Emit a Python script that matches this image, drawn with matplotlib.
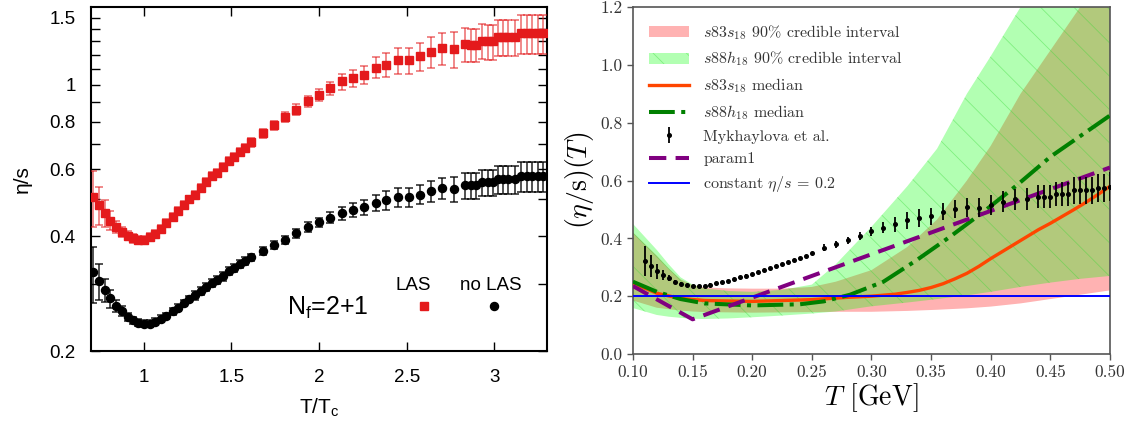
import numpy as np
import matplotlib
matplotlib.use('Agg')
import matplotlib.pyplot as plt
from matplotlib.ticker import FixedLocator, FixedFormatter, NullFormatter, NullLocator
from matplotlib.lines import Line2D

plt.rcParams['font.family'] = ['Liberation Sans', 'DejaVu Sans']
plt.rcParams['mathtext.fontset'] = 'custom'
plt.rcParams['mathtext.rm'] = 'Liberation Sans'
plt.rcParams['mathtext.it'] = 'Liberation Sans:italic'
plt.rcParams['axes.unicode_minus'] = False
plt.rcParams['hatch.linewidth'] = 0.6

# ---------------- left panel: lattice eta/s vs T/Tc ----------------
t_tc = [0.713, 0.748, 0.778, 0.81, 0.845, 0.875, 0.908, 0.94, 0.97, 1.0,
        1.034, 1.066, 1.098, 1.13, 1.165, 1.197, 1.228, 1.26, 1.294, 1.325,
        1.356, 1.388, 1.42, 1.45, 1.487, 1.517, 1.55, 1.58, 1.61, 1.68,
        1.744, 1.807, 1.87, 1.935, 2.0, 2.062, 2.129, 2.193, 2.256, 2.322,
        2.384, 2.45, 2.515, 2.578, 2.64, 2.703, 2.77, 2.835, 2.866, 2.895,
        2.93, 2.962, 2.99, 3.02, 3.05, 3.08, 3.115, 3.15, 3.184, 3.215,
        3.246, 3.278]

eta_las = [0.507, 0.484, 0.460, 0.440, 0.423, 0.411, 0.402, 0.395, 0.392, 0.392,
           0.398, 0.406, 0.418, 0.433, 0.449, 0.466, 0.483, 0.500, 0.515, 0.536,
           0.555, 0.575, 0.588, 0.608, 0.632, 0.648, 0.668, 0.684, 0.706, 0.746,
           0.783, 0.822, 0.861, 0.905, 0.942, 0.979, 1.02, 1.04, 1.063, 1.11,
           1.13, 1.16, 1.16, 1.19, 1.22, 1.25, 1.24, 1.28, 1.275, 1.275,
           1.306, 1.30, 1.30, 1.338, 1.338, 1.338, 1.338, 1.368, 1.368, 1.368,
           1.368, 1.368]
err_las = [0.085, 0.055, 0.038, 0.025, 0.016, 0.012, 0.01, 0.01, 0.01, 0.01,
           0.01, 0.01, 0.01, 0.01, 0.011, 0.011, 0.012, 0.012, 0.012, 0.013,
           0.013, 0.014, 0.014, 0.015, 0.015, 0.016, 0.016, 0.017, 0.018, 0.02,
           0.022, 0.025, 0.027, 0.03, 0.035, 0.04, 0.05, 0.055, 0.06, 0.07,
           0.08, 0.09, 0.09, 0.10, 0.115, 0.12, 0.135, 0.13, 0.13, 0.13,
           0.135, 0.135, 0.135, 0.145, 0.145, 0.145, 0.145, 0.16, 0.16, 0.16,
           0.16, 0.16]

eta_nolas = [0.322, 0.305, 0.289, 0.275, 0.263, 0.255, 0.246, 0.241, 0.237, 0.236,
             0.236, 0.239, 0.243, 0.247, 0.254, 0.26, 0.267, 0.274, 0.28, 0.288,
             0.295, 0.302, 0.307, 0.314, 0.324, 0.33, 0.339, 0.345, 0.352, 0.366,
             0.38, 0.392, 0.407, 0.423, 0.435, 0.448, 0.46, 0.469, 0.477, 0.49,
             0.498, 0.507, 0.507, 0.515, 0.525, 0.535, 0.533, 0.544, 0.544, 0.544,
             0.554, 0.554, 0.554, 0.565, 0.565, 0.565, 0.565, 0.575, 0.575, 0.575,
             0.575, 0.575]
err_nolas = [0.054, 0.033, 0.02, 0.015, 0.01, 0.008, 0.006, 0.005, 0.005, 0.005,
             0.005, 0.005, 0.005, 0.005, 0.005, 0.005, 0.005, 0.005, 0.007, 0.007,
             0.007, 0.007, 0.007, 0.008, 0.008, 0.008, 0.008, 0.008, 0.008, 0.009,
             0.009, 0.01, 0.011, 0.012, 0.013, 0.015, 0.018, 0.02, 0.022, 0.025,
             0.028, 0.03, 0.03, 0.03, 0.033, 0.035, 0.04, 0.042, 0.042, 0.042,
             0.045, 0.045, 0.045, 0.048, 0.048, 0.048, 0.048, 0.052, 0.052, 0.052,
             0.052, 0.052]

yticks_l = [0.2, 0.4, 0.6, 0.8, 1, 1.5]
ylabels_l = ['0.2', '0.4', '0.6', '0.8', '1', '1.5']
yminor_l = [0.3, 0.5, 0.7, 0.9, 1.1, 1.2, 1.3, 1.4]
xticks_l = [1, 1.5, 2, 2.5, 3]
xlabels_l = ['1', '1.5', '2', '2.5', '3']

# ---------------- right panel: Bayesian eta/s(T) ----------------
T_band = [0.10, 0.12, 0.13, 0.14, 0.15, 0.16, 0.18, 0.20, 0.225, 0.25,
          0.27, 0.30, 0.33, 0.355, 0.38, 0.40, 0.425, 0.45, 0.475, 0.50]
s83_hi = [0.42, 0.34, 0.295, 0.258, 0.238, 0.23, 0.227, 0.226, 0.226, 0.232,
          0.25, 0.29, 0.37, 0.465, 0.60, 0.72, 0.90, 1.05, 1.2, 1.36]
s83_lo = [0.185, 0.16, 0.155, 0.15, 0.147, 0.145, 0.144, 0.143, 0.144, 0.145,
          0.146, 0.146, 0.149, 0.153, 0.158, 0.164, 0.175, 0.19, 0.205, 0.22]
s88_hi = [0.45, 0.36, 0.31, 0.265, 0.24, 0.227, 0.218, 0.215, 0.222, 0.24,
          0.31, 0.44, 0.58, 0.71, 0.90, 1.03, 1.2, 1.4, 1.6, 1.8]
s88_lo = [0.159, 0.135, 0.129, 0.125, 0.122, 0.121, 0.123, 0.127, 0.133, 0.14,
          0.147, 0.165, 0.178, 0.19, 0.203, 0.215, 0.232, 0.247, 0.26, 0.27]

T_med83 = [0.10, 0.12, 0.14, 0.16, 0.20, 0.25, 0.28, 0.30, 0.32, 0.33,
           0.34, 0.35, 0.36, 0.37, 0.38, 0.39, 0.40, 0.41, 0.42, 0.43,
           0.44, 0.45, 0.46, 0.47, 0.48, 0.49, 0.50]
med83 = [0.245, 0.21, 0.192, 0.185, 0.182, 0.188, 0.196, 0.2, 0.207, 0.213,
         0.22, 0.23, 0.243, 0.26, 0.279, 0.303, 0.33, 0.355, 0.38, 0.405,
         0.43, 0.452, 0.476, 0.5, 0.525, 0.552, 0.58]

T_med88 = [0.10, 0.12, 0.14, 0.16, 0.20, 0.24, 0.26, 0.282, 0.31, 0.338,
           0.366, 0.394, 0.422, 0.45, 0.50]
med88 = [0.25, 0.215, 0.19, 0.175, 0.168, 0.172, 0.182, 0.205, 0.25, 0.325,
         0.406, 0.492, 0.584, 0.682, 0.825]

T_p1 = [0.10, 0.15, 0.50]
p1 = [0.235, 0.12, 0.645]

myk_T = [0.11, 0.115, 0.12, 0.125, 0.13, 0.135, 0.14, 0.145, 0.15, 0.155,
         0.16, 0.165, 0.17, 0.175, 0.18, 0.185, 0.19, 0.195, 0.20, 0.205,
         0.21, 0.215, 0.22, 0.225, 0.23, 0.235, 0.24, 0.245, 0.25, 0.26,
         0.27, 0.28, 0.29, 0.30, 0.31, 0.32, 0.33, 0.34, 0.35, 0.36,
         0.37, 0.38, 0.39, 0.40, 0.41, 0.42, 0.43, 0.44, 0.445, 0.45,
         0.455, 0.46, 0.465, 0.47, 0.475, 0.48, 0.485, 0.49, 0.495, 0.50]
myk_eta = [0.322, 0.305, 0.287, 0.274, 0.262, 0.25, 0.243, 0.239, 0.235, 0.234,
           0.236, 0.24, 0.244, 0.248, 0.253, 0.259, 0.265, 0.271, 0.277, 0.282,
           0.289, 0.296, 0.303, 0.31, 0.317, 0.325, 0.332, 0.339, 0.348, 0.368,
           0.379, 0.393, 0.408, 0.424, 0.437, 0.448, 0.462, 0.47, 0.476, 0.492,
           0.50, 0.508, 0.506, 0.516, 0.527, 0.535, 0.536, 0.544, 0.544, 0.544,
           0.554, 0.554, 0.554, 0.566, 0.566, 0.566, 0.566, 0.575, 0.575, 0.579]
myk_err = [0.052, 0.037, 0.026, 0.017, 0.011, 0.007, 0.005, 0.004, 0.004, 0.004,
           0.004, 0.004, 0.004, 0.004, 0.004, 0.004, 0.004, 0.004, 0.004, 0.004,
           0.004, 0.004, 0.004, 0.004, 0.004, 0.004, 0.004, 0.004, 0.004, 0.012,
           0.012, 0.012, 0.013, 0.015, 0.02, 0.025, 0.028, 0.03, 0.03, 0.03,
           0.031, 0.033, 0.033, 0.035, 0.037, 0.037, 0.038, 0.04, 0.04, 0.04,
           0.042, 0.042, 0.042, 0.046, 0.046, 0.046, 0.046, 0.049, 0.049, 0.049]

eta_const = 0.2

xticks_r = [0.10, 0.15, 0.20, 0.25, 0.30, 0.35, 0.40, 0.45, 0.50]
yticks_r = [0.0, 0.2, 0.4, 0.6, 0.8, 1.0, 1.2]

labels_r = [r'$s83s_{18}$ 90% credible interval',
            r'$s88h_{18}$ 90% credible interval',
            r'$s83s_{18}$ median',
            r'$s88h_{18}$ median',
            'Mykhaylova et al.',
            'param1',
            r'constant $\eta/s$ = 0.2']

fig = plt.figure(figsize=(11.38, 4.23), dpi=100)
ax1 = fig.add_axes([0.0800, 0.1702, 0.4007, 0.8132])
ax2 = fig.add_axes([0.5562, 0.1631, 0.4192, 0.8203])

# ---- left
red = '#e41a1c'
ax1.errorbar(t_tc, eta_las, yerr=err_las, fmt='s', color=red, ms=5.8,
             ecolor=(0.89, 0.1, 0.11, 0.6), elinewidth=1.2, capsize=3,
             capthick=1.2, zorder=3)
ax1.errorbar(t_tc, eta_nolas, yerr=err_nolas, fmt='o', color='black', ms=5.8,
             ecolor=(0, 0, 0, 0.8), elinewidth=1.2, capsize=3,
             capthick=1.2, zorder=3)
ax1.set_yscale('log')
ax1.set_xlim(0.7, 3.3)
ax1.set_ylim(0.2, 1.6)
ax1.yaxis.set_major_locator(FixedLocator(yticks_l))
ax1.yaxis.set_major_formatter(FixedFormatter(ylabels_l))
ax1.yaxis.set_minor_locator(FixedLocator(yminor_l))
ax1.yaxis.set_minor_formatter(NullFormatter())
ax1.xaxis.set_major_locator(FixedLocator(xticks_l))
ax1.xaxis.set_major_formatter(FixedFormatter(xlabels_l))
ax1.xaxis.set_minor_locator(NullLocator())
ax1.tick_params(which='both', direction='in', top=True, right=True,
                length=6.5, width=1, labelsize=13.5)
ax1.tick_params(axis='x', pad=13)
ax1.tick_params(axis='y', pad=11)
for sp in ax1.spines.values():
    sp.set_linewidth(1.5)
ax1.set_xlabel('T/T$_\\mathrm{c}$', fontsize=15, labelpad=8)
ax1.set_ylabel('\u03b7/s', fontsize=15, labelpad=13)

h_las = Line2D([], [], ls='none', marker='s', color=red, ms=5.8)
h_nolas = Line2D([], [], ls='none', marker='o', color='black', ms=5.8)
ax1.legend([h_las, h_nolas], ['', ''], ncol=2, loc='center',
           bbox_to_anchor=(0.807, 0.125), frameon=False, fontsize=13.5,
           handlelength=1, handletextpad=0, columnspacing=2.73, borderpad=0)
ax1.text(2.54, 0.290, 'LAS', ha='center', va='baseline', fontsize=13.5)
ax1.text(2.977, 0.290, 'no LAS', ha='center', va='baseline', fontsize=13.5)
ax1.text(1.816, 0.2486, 'N$_\\mathrm{f}$=2+1', ha='left', va='baseline', fontsize=18)

# ---- right
b83 = ax2.fill_between(T_band, s83_lo, s83_hi, facecolor=(1, 0, 0, 0.3),
                       linewidth=0, zorder=1)
b88 = ax2.fill_between(T_band, s88_lo, s88_hi, facecolor=(0, 1, 0, 0.3),
                       edgecolor=(0.2, 0.85, 0.2, 0.4), hatch='\\',
                       linewidth=0, zorder=1.1)
l83, = ax2.plot(T_med83, med83, color='orangered', lw=2.4, zorder=3)
l88, = ax2.plot(T_med88, med88, color='green', lw=2.9, ls='-.', zorder=3.1)
myk = ax2.errorbar(myk_T, myk_eta, yerr=myk_err, fmt='o', color='black',
                   ms=2.6, elinewidth=1.3, capsize=0, zorder=5)
lp1, = ax2.plot(T_p1, p1, color='purple', lw=2.9, ls=(0, (4.3, 2.3)), zorder=4)
lc = ax2.axhline(eta_const, color='blue', lw=1.4, zorder=6)

ax2.set_xlim(0.10, 0.50)
ax2.set_ylim(0.0, 1.2)
ax2.set_xticks(xticks_r)
ax2.set_xticklabels(['%.2f' % v for v in xticks_r])
ax2.set_yticks(yticks_r)
ax2.set_yticklabels(['%.1f' % v for v in yticks_r])
ax2.tick_params(direction='out', length=4, width=1, color='#555555',
                labelcolor='#333333', labelsize=12.5, labelfontfamily='cmr10')
for sp in ax2.spines.values():
    sp.set_color('#555555')
    sp.set_linewidth(1.2)
ax2.set_xlabel(r'$T$ [GeV]', fontsize=20, fontfamily='cmr10',
               math_fontfamily='cm', labelpad=1)
ax2.set_ylabel(r'$(\eta/\mathrm{s})(T)$', fontsize=20, fontfamily='cmr10',
               math_fontfamily='cm', labelpad=3)

leg2 = ax2.legend([b83, b88, l83, l88, myk, lp1, lc], labels_r,
                  loc='upper left', frameon=False, fontsize=11.5,
                  handlelength=2.5, handletextpad=0.9, labelspacing=0.5,
                  borderaxespad=0.6)
for t in leg2.get_texts():
    t.set_fontfamily('cmr10')
    t.set_math_fontfamily('cm')
    t.set_color('#333333')

fig.savefig('out.png', dpi=100)
